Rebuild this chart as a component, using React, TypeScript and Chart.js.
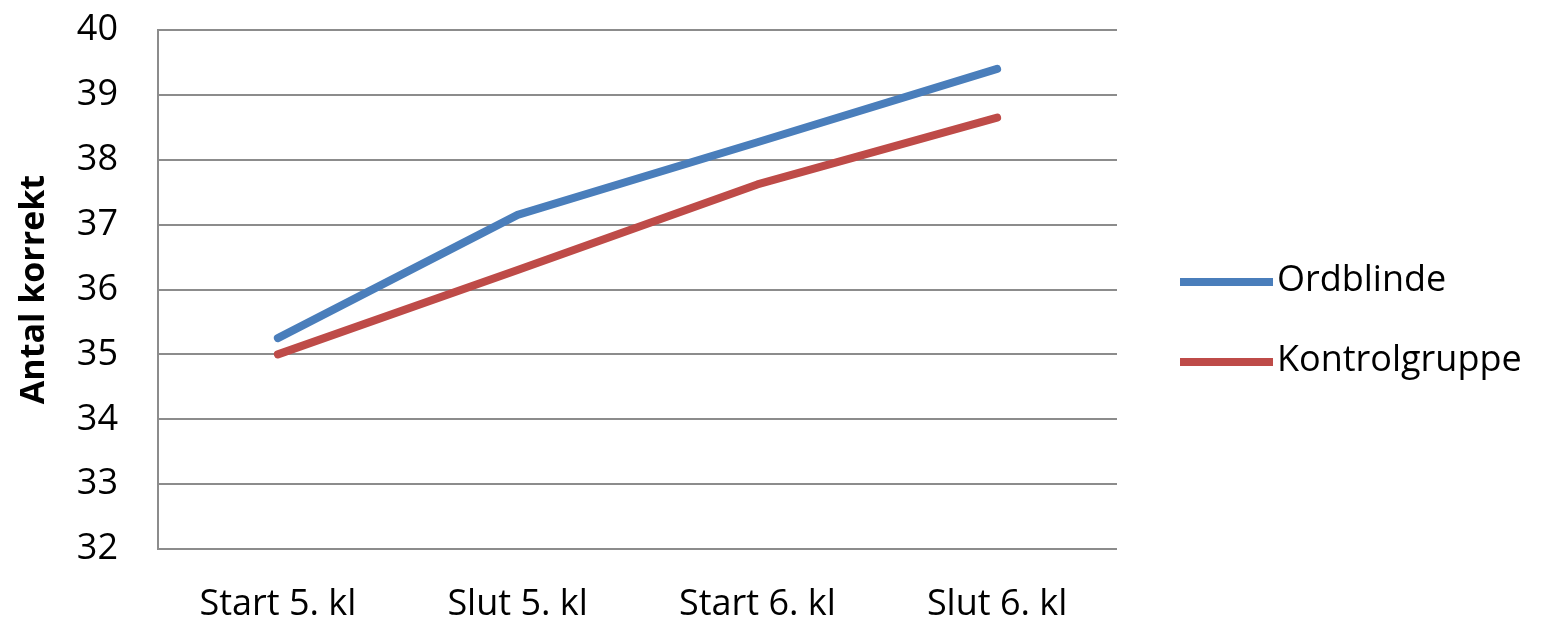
import React, { useEffect, useRef } from "react";
import { Chart, registerables } from "chart.js";

Chart.register(...registerables);

const categories = ["Start 5. kl", "Slut 5. kl", "Start 6. kl", "Slut 6. kl"];
const ordblinde = [35.25, 37.15, 38.27, 39.4];
const kontrolgruppe = [35.0, 36.3, 37.62, 38.65];
const seriesNames = ["Ordblinde", "Kontrolgruppe"];
const yTitle = "Antal korrekt";

const FONT = "'Open Sans', Lato, sans-serif";

const legendPlugin = {
  id: "customLegend",
  afterDraw(chart: any) {
    const ctx = chart.ctx;
    const area = chart.chartArea;
    ctx.save();
    chart.data.datasets.forEach((ds: any, i: number) => {
      const y = area.top + 252 + i * 80;
      const x0 = area.right + 63;
      ctx.strokeStyle = ds.borderColor;
      ctx.lineWidth = 8;
      ctx.lineCap = "butt";
      ctx.beginPath();
      ctx.moveTo(x0, y);
      ctx.lineTo(x0 + 93, y);
      ctx.stroke();
      ctx.fillStyle = "#000";
      ctx.font = `36px ${FONT}`;
      ctx.textBaseline = "middle";
      ctx.textAlign = "left";
      ctx.fillText(ds.label, x0 + 97, y - 1);
    });
    ctx.restore();
  },
};

export default function App() {
  const ref = useRef<HTMLCanvasElement>(null);
  useEffect(() => {
    if (!ref.current) return;
    const chart = new Chart(ref.current, {
      type: "line",
      data: {
        labels: categories,
        datasets: [
          {
            label: seriesNames[0],
            data: ordblinde,
            borderColor: "#4A7EBB",
            backgroundColor: "#4A7EBB",
            borderWidth: 8,
            borderCapStyle: "round",
            borderJoinStyle: "round",
            pointRadius: 0,
            tension: 0,
          },
          {
            label: seriesNames[1],
            data: kontrolgruppe,
            borderColor: "#BE4B48",
            backgroundColor: "#BE4B48",
            borderWidth: 8,
            borderCapStyle: "round",
            borderJoinStyle: "round",
            pointRadius: 0,
            tension: 0,
          },
        ],
      },
      options: {
        animation: false,
        responsive: false,
        maintainAspectRatio: false,
        layout: { padding: { top: 30, right: 425, left: 0, bottom: 0 } },
        plugins: { legend: { display: false }, tooltip: { enabled: false } },
        scales: {
          x: {
            offset: true,
            grid: { display: false, drawTicks: false },
            border: { display: false },
            ticks: { color: "#000", font: { family: FONT, size: 36 }, padding: 34, maxRotation: 0 },
            afterFit: (s: any) => { s.height = 76; },
          },
          y: {
            min: 32,
            max: 40,
            ticks: { stepSize: 1, color: "#000", font: { family: FONT, size: 36 }, padding: 0 },
            grid: { color: "#8c8c8c", lineWidth: 2, drawTicks: true, tickLength: 40, tickColor: "rgba(0,0,0,0)" },
            border: { display: true, color: "#8c8c8c", width: 2 },
            title: {
              display: true,
              text: yTitle,
              color: "#000",
              font: { family: FONT, size: 34, weight: "bold" },
              padding: { top: 14, bottom: 0 },
            },
            afterFit: (s: any) => { s.width = 158; },
          },
        },
      },
      plugins: [legendPlugin],
    });
    return () => chart.destroy();
  }, []);
  return (
    <div style={{ position: "fixed", left: 0, top: 0, width: 1542, height: 625, background: "#fff" }}>
      <canvas ref={ref} width={1542} height={625} style={{ width: 1542, height: 625 }} />
    </div>
  );
}
